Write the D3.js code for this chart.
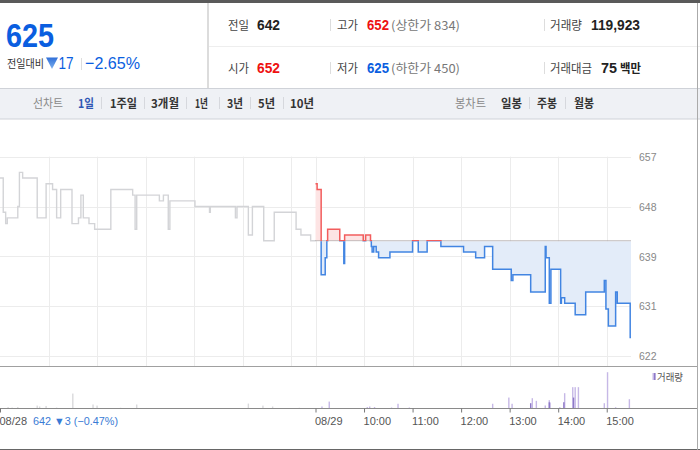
<!DOCTYPE html>
<html><head><meta charset="utf-8">
<script src="https://cdn.jsdelivr.net/npm/d3@7/dist/d3.min.js"></script>
<style>
html,body{margin:0;padding:0;background:#fff;}
svg{display:block;font-family:"Liberation Sans",Arial,"Noto Sans CJK KR",sans-serif;}
</style></head><body><svg id="c" width="700" height="450"></svg>
<script>
// ---------- DATA ----------
const prevClose = 642;
const day1Times  = ["09:00","09:04","09:07","09:09","09:22","09:24","09:28","09:46","09:57","10:05","10:10","10:15","10:29","10:37","10:40","10:43","10:50","10:57","11:17","11:44","11:47","11:49","12:17","12:22","12:28","12:30","13:01","13:19","13:20","13:51","13:53","14:07","14:12","14:26","14:39","15:06","15:12","15:24","15:30"];
const day1Prices = [653,647,645,646,648,654,653,646,652,651,646,651,645,646,650,646,645,644,651,650,644,650,649,650,644,649,648,647,648,646,648,643,648,642,647,644,643,642,642];
const day2Times  = ["09:00","09:02","09:07","09:12","09:14","09:15","09:30","09:35","09:36","09:59","10:02","10:08","10:09","10:10","10:12","10:15","10:18","10:32","11:00","11:07","11:18","11:35","12:03","12:18","12:29","12:39","13:02","13:04","13:26","13:44","13:45","13:49","13:51","14:03","14:04","14:08","14:21","14:34","14:57","14:59","15:02","15:11","15:13","15:29","15:30"];
const day2Prices = [652,651,636,639,642,644,642,638,643,642,643,642,641,640,641,640,639,640,642,640,642,641,640,639,641,637,635,636,633,641,639,631,637,631,632,631,629,633,635,630,627,633,631,625,625];

const day1VolTimes = ["09:10","09:15","09:22","09:46","09:49","09:57","10:10","10:30","10:55","11:00","11:29","11:49","12:01","14:07","14:25","14:37","15:10"];
const day1Volumes  = [800,500,800,1600,1100,1400,500,8200,2200,1600,400,2200,300,2700,1600,1100,400];
const day2VolTimes = ["09:08","09:17","10:04","10:07","10:13","10:34","10:42","10:56","12:39","12:59","13:03","13:28","13:33","13:44","13:49","13:50","14:02","14:08","14:18","14:21","14:25","14:57","15:01","15:11","15:28"];
const day2Volumes  = [1100,3800,800,1100,800,550,2600,550,2600,6000,2600,5650,4200,1650,4550,3300,700,8400,11700,11700,11700,2900,19900,700,5100];
const day2DarkVolTimes = ["13:26","13:49","14:07","14:19"];
const day2DarkVolumes  = [2900,3400,3450,6000];

const priceTickValues = [621.75,630.5,639.25,648,656.75];
const priceTickLabels = ["622","631","639","648","657"];
const axisTickDays   = [0,1,1,1,1,1,1,1];
const axisTickClock  = ["09:00","09:00","10:00","11:00","12:00","13:00","14:00","15:00"];
const axisTickLabels = ["08/28","08/29","10:00","11:00","12:00","13:00","14:00","15:00"];
const gridDays  = [0,0,0,0,0,0,1,1,1,1,1,1,1];
const gridClock = ["10:00","11:00","12:00","13:00","14:00","15:00","09:00","10:00","11:00","12:00","13:00","14:00","15:00"];

// ---------- HELPERS ----------
const toMin = (day, s) => { const [h,m] = s.split(":").map(Number); return day*390 + h*60 + m - 540; };
const svg = d3.select("#c");
const KR = "'Noto Sans CJK KR','Liberation Sans',sans-serif";
const BLUE = "#0a5ee0", RED = "#ee1111";

// ---------- HEADER ----------
svg.append("rect").attr("x",0).attr("y",0).attr("width",700).attr("height",3).attr("fill","#5a5a5a");
svg.append("line").attr("x1",208).attr("x2",208).attr("y1",3).attr("y2",88).attr("stroke","#dcdcdc").attr("stroke-width",2);
svg.append("line").attr("x1",209).attr("x2",700).attr("y1",46.5).attr("y2",46.5).attr("stroke","#eeeeee");

function txt(x,y,s,opt){
  const t = svg.append("text").attr("x",x).attr("y",y).text(s)
    .attr("font-size",opt.size||12).attr("fill",opt.fill||"#222");
  if(opt.bold) t.attr("font-weight","bold");
  if(opt.kr) t.attr("font-family",KR);
  if(opt.len) t.attr("textLength",opt.len).attr("lengthAdjust","spacingAndGlyphs");
  if(opt.anchor) t.attr("text-anchor",opt.anchor);
  return t;
}
txt(6,47,"625",{size:33,bold:true,fill:BLUE,len:48});
txt(7,68,"전일대비",{size:11,kr:true,fill:"#333",len:37});
const grad = svg.append("defs").append("linearGradient").attr("id","tri").attr("x1",0).attr("x2",0).attr("y1",0).attr("y2",1);
grad.append("stop").attr("offset","0").attr("stop-color","#2f6fd8");
grad.append("stop").attr("offset","1").attr("stop-color","#7fb0ee");
svg.append("path").attr("d","M46,57.5L58,57.5L52,69Z").attr("fill","url(#tri)");
txt(58.5,69,"17",{size:17,fill:BLUE,len:15});
svg.append("line").attr("x1",81.5).attr("x2",81.5).attr("y1",58).attr("y2",70).attr("stroke","#ddd");
txt(85,69,"−2.65%",{size:17,fill:BLUE,len:55});

// rows
const sepRow = (x,y)=>svg.append("line").attr("x1",x).attr("x2",x).attr("y1",y-6).attr("y2",y+6).attr("stroke","#dddddd");
txt(228,30,"전일",{size:12,kr:true,fill:"#444",len:21});
txt(257,30,"642",{size:14,bold:true,fill:"#222",len:23});
sepRow(330.5,25);
txt(337,30,"고가",{size:12,kr:true,fill:"#444",len:21});
txt(367,30,"652",{size:14,bold:true,fill:RED,len:22});
txt(391,30,"(상한가 834)",{size:12,kr:true,fill:"#777",len:69});
sepRow(544.5,25);
txt(550,30,"거래량",{size:12,kr:true,fill:"#444",len:32});
txt(591,30,"119,923",{size:14,bold:true,fill:"#222",len:49});

txt(228,73,"시가",{size:12,kr:true,fill:"#444",len:21});
txt(257,73,"652",{size:14,bold:true,fill:RED,len:23});
sepRow(330.5,68);
txt(337,73,"저가",{size:12,kr:true,fill:"#444",len:21});
txt(367,73,"625",{size:14,bold:true,fill:BLUE,len:22});
txt(391,73,"(하한가 450)",{size:12,kr:true,fill:"#777",len:69});
sepRow(544.5,68);
txt(550,73,"거래대금",{size:12,kr:true,fill:"#444",len:42});
txt(601,73,"75",{size:14,bold:true,fill:"#222",len:16});
txt(620,73,"백만",{size:12,kr:true,bold:true,fill:"#222",len:21});

// tab row
svg.append("rect").attr("x",0).attr("y",88).attr("width",700).attr("height",31).attr("fill","#eff1f5");
svg.append("line").attr("x1",0).attr("x2",700).attr("y1",88.5).attr("y2",88.5).attr("stroke","#cfd2d8");
svg.append("line").attr("x1",0).attr("x2",700).attr("y1",119).attr("y2",119).attr("stroke","#cfd2d8");
txt(33,108,"선차트",{size:12,kr:true,fill:"#888",len:30});
txt(78,108,"1일",{size:12,kr:true,bold:true,fill:"#2e56b4",len:16});
const tabs = [["1주일",110,27],["3개월",151,28],["1년",195,13],["3년",227,16],["5년",258,17],["10년",290,24]];
const tabSeps = [101,144,186,219,250,283];
tabs.forEach(t=>txt(t[1],108,t[0],{size:12,kr:true,bold:true,fill:"#333",len:t[2]}));
tabSeps.forEach(x=>svg.append("line").attr("x1",x+0.5).attr("x2",x+0.5).attr("y1",97).attr("y2",109).attr("stroke","#d6d8dd"));
txt(455,108,"봉차트",{size:12,kr:true,fill:"#888",len:31});
txt(501,108,"일봉",{size:12,kr:true,bold:true,fill:"#333",len:21});
txt(537,108,"주봉",{size:12,kr:true,bold:true,fill:"#333",len:20});
txt(574,108,"월봉",{size:12,kr:true,bold:true,fill:"#333",len:20});
[529,565].forEach(x=>svg.append("line").attr("x1",x+0.5).attr("x2",x+0.5).attr("y1",97).attr("y2",109).attr("stroke","#d6d8dd"));

// ---------- SCALES ----------
const x = d3.scaleLinear().domain([0,780]).range([0,631]);
const y = d3.scaleLinear().domain([621.75,656.75]).range([356,156.7]);
const yv = d3.scaleLinear().domain([0,23300]).range([408.5,366]);

// grid
const g = svg.append("g");
g.selectAll(".hg").data(priceTickValues).join("line")
  .attr("x1",0).attr("x2",631).attr("y1",d=>Math.round(y(d))+0.5).attr("y2",d=>Math.round(y(d))+0.5)
  .attr("stroke","#ececec");
g.selectAll(".vg").data(gridClock.map((c,i)=>toMin(gridDays[i],c))).join("line")
  .attr("x1",d=>Math.round(x(d))+0.5).attr("x2",d=>Math.round(x(d))+0.5).attr("y1",156.7).attr("y2",366)
  .attr("stroke","#ececec");

// price axis
const ya = svg.append("g").attr("transform","translate(638,0)")
  .call(d3.axisRight(y).tickValues(priceTickValues).tickFormat((d,i)=>priceTickLabels[i]).tickSize(0));
ya.select(".domain").remove();
ya.selectAll("text").attr("font-size",10.5).attr("fill","#888").attr("font-family","'Liberation Sans',Arial,sans-serif").attr("x",1).attr("dy","0.35em");

// ---------- PRICE LINES ----------
const d1 = day1Times.map((t,i)=>({m:toMin(0,t),p:day1Prices[i]}));
const d2 = day2Times.map((t,i)=>({m:toMin(1,t),p:day2Prices[i]}));
const line = d3.line().x(d=>x(d.m)).y(d=>y(d.p)).curve(d3.curveStepAfter);
const area = d3.area().x(d=>x(d.m)).y0(y(prevClose)).y1(d=>y(d.p)).curve(d3.curveStepAfter);
const by = y(prevClose);
const defs = svg.append("defs");
defs.append("clipPath").attr("id","up").append("rect").attr("x",0).attr("y",0).attr("width",700).attr("height",by+0.6);
defs.append("clipPath").attr("id","dn").append("rect").attr("x",0).attr("y",by+0.6).attr("width",700).attr("height",450);

svg.append("path").datum(d2).attr("d",area).attr("fill","#fde4e4").attr("clip-path","url(#up)");
svg.append("path").datum(d2).attr("d",area).attr("fill","#e3ecf9").attr("clip-path","url(#dn)");

svg.append("path").datum(d1).attr("d",line).attr("fill","none").attr("stroke","#d3d4d7").attr("stroke-width",1.4);

svg.append("line").attr("x1",x(390)).attr("x2",631).attr("y1",by).attr("y2",by)
  .attr("stroke","#888").attr("stroke-dasharray","1,1").attr("stroke-width",1);

svg.append("path").datum(d2).attr("d",line).attr("fill","none").attr("stroke","#f25d5d").attr("stroke-width",1.5).attr("clip-path","url(#up)");
svg.append("path").datum(d2).attr("d",line).attr("fill","none").attr("stroke","#4285e2").attr("stroke-width",1.5).attr("clip-path","url(#dn)");

// ---------- VOLUME ----------
svg.append("line").attr("x1",0).attr("x2",698).attr("y1",366.5).attr("y2",366.5).attr("stroke","#a0a0a0");
const v1 = day1VolTimes.map((t,i)=>({m:toMin(0,t),v:day1Volumes[i]}));
const v2 = day2VolTimes.map((t,i)=>({m:toMin(1,t),v:day2Volumes[i]}));
const v3 = day2DarkVolTimes.map((t,i)=>({m:toMin(1,t),v:day2DarkVolumes[i]}));
const bars = (data,color)=>svg.append("g").selectAll("rect").data(data).join("rect")
  .attr("x",d=>x(d.m)-0.7).attr("width",1.4).attr("y",d=>yv(d.v)).attr("height",d=>yv(0)-yv(d.v)).attr("fill",color);
bars(v1,"#d9d9dc");
bars(v2,"#c6b8e6");
bars(v3,"#8e79c8");

// legend
svg.append("rect").attr("x",652.5).attr("y",373).attr("width",1.6).attr("height",7).attr("fill","#c6b8e6");
svg.append("rect").attr("x",654).attr("y",373).attr("width",1.6).attr("height",7).attr("fill","#8e79c8");
txt(657,381,"거래량",{size:10,kr:true,fill:"#555",len:26});

// x axis
const tickMins = axisTickClock.map((c,i)=>toMin(axisTickDays[i],c));
const xa = svg.append("g").attr("transform","translate(0,408.5)")
  .call(d3.axisBottom(x).tickValues(tickMins).tickFormat((d,i)=>axisTickLabels[i]).tickSize(4).tickSizeOuter(0));
xa.select(".domain").attr("d","M0,0H698").attr("stroke","#8a8a8a");
xa.selectAll(".tick line").attr("stroke","#777");
xa.selectAll(".tick text").attr("text-anchor","start").attr("x",-1).attr("y",9).attr("dy","0.71em")
  .attr("font-size",11).attr("fill","#555").attr("font-family","'Liberation Sans',Arial,sans-serif");
txt(33,425,"642 ▼3 (−0.47%)",{size:11,fill:"#3a7bd5",len:85});

// borders
svg.append("line").attr("x1",0).attr("x2",700).attr("y1",449.5).attr("y2",449.5).attr("stroke","#666");
svg.append("line").attr("x1",697.5).attr("x2",697.5).attr("y1",3).attr("y2",450).attr("stroke","#aaa");
</script></body></html>
